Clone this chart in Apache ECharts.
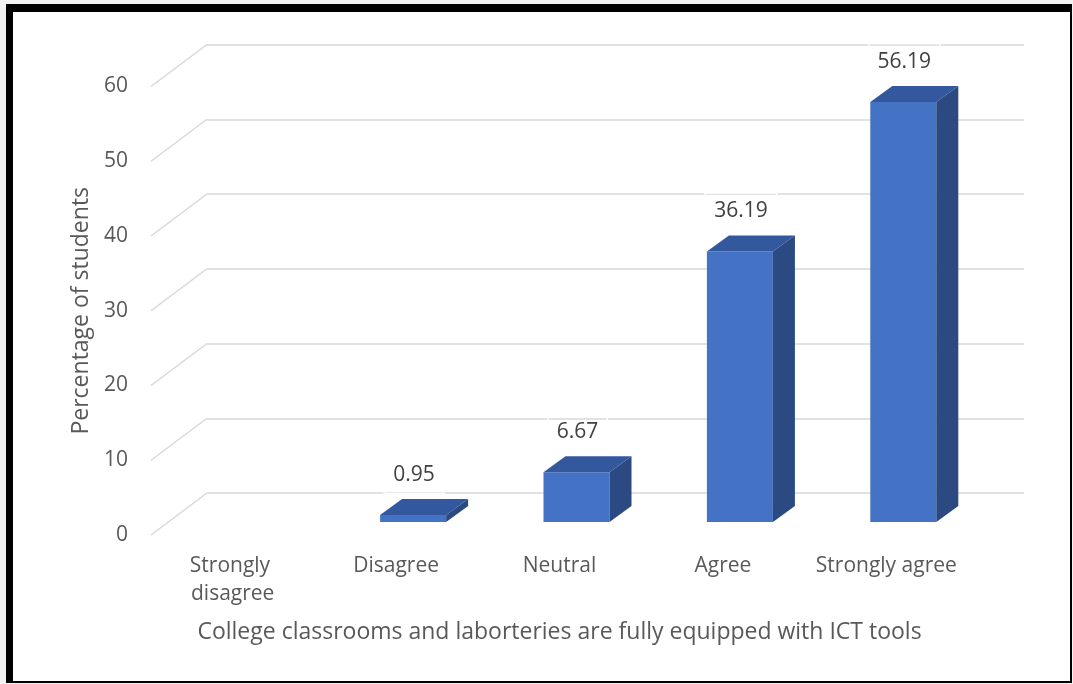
<!DOCTYPE html>
<html>
<head>
<meta charset="utf-8">
<script src="https://cdn.jsdelivr.net/npm/echarts@6/dist/echarts.min.js"></script>
<style>
html,body{margin:0;padding:0;background:#f2f2f2;}
#c{width:1073px;height:684px;}
</style>
</head>
<body>
<div id="c"></div>
<script>
const categories = ['Strongly disagree', 'Disagree', 'Neutral', 'Agree', 'Strongly agree'];
const values = [0, 0.95, 6.67, 36.19, 56.19];
const yTicks = [0, 10, 20, 30, 40, 50, 60];
const yTitle = 'Percentage of students';
const xTitle = 'College classrooms and laborteries are fully equipped with ICT tools';

const FONT = 'Open Sans';
const FS = 21;
const FT = 23;
const TXT = '#595959';
// oblique projection offsets
const FRONT = [-56, 42];     // axis front plane relative to back wall
const BARF = [-39, 29];      // bar front face relative to back wall
const DEPTH = [22, -16];     // bar depth

const chart = echarts.init(document.getElementById('c'), null, {renderer: 'canvas'});

const option = {
  backgroundColor: 'transparent',
  animation: false,
  textStyle: {fontFamily: FONT},
  graphic: [
    {type: 'rect', z: -10, shape: {x: 6, y: 4, width: 1066, height: 679}, style: {fill: '#000'}},
    {type: 'rect', z: -9, shape: {x: 13, y: 12, width: 1057, height: 669}, style: {fill: '#fff'}}
  ],
  grid: [
    {left: 207, right: 49, top: 44.5, bottom: 191},
    {left: 151, right: 105, top: 86.5, bottom: 149}
  ],
  xAxis: [
    {gridIndex: 0, type: 'category', data: categories, show: false},
    {gridIndex: 1, type: 'category', data: categories,
     axisLine: {show: false}, axisTick: {show: false},
     axisLabel: {color: TXT, fontSize: FS, fontFamily: FONT, margin: 17, width: 160, overflow: 'break', lineHeight: 28, interval: 0},
     name: xTitle, nameLocation: 'middle', nameGap: 86,
     nameTextStyle: {color: TXT, fontSize: FT, fontFamily: FONT}}
  ],
  yAxis: [
    {gridIndex: 0, type: 'value', min: 0, max: 60, interval: 10,
     axisLine: {show: false}, axisTick: {show: false}, axisLabel: {show: false},
     splitLine: {lineStyle: {color: '#d9d9d9', width: 1.5}}},
    {gridIndex: 1, type: 'value', min: 0, max: 60, interval: 10,
     axisLine: {show: false}, axisTick: {show: false}, splitLine: {show: false},
     axisLabel: {color: TXT, fontSize: FS, fontFamily: FONT, margin: 23},
     name: yTitle, nameLocation: 'middle', nameGap: 57, nameRotate: 90,
     nameTextStyle: {color: TXT, fontSize: FT, fontFamily: FONT}}
  ],
  series: [
    {
      type: 'custom', xAxisIndex: 0, yAxisIndex: 0, clip: false, silent: true, z: 1,
      data: yTicks.map(v => [0, v]),
      renderItem: function (params, api) {
        const cs = params.coordSys;
        const p = api.coord([0, api.value(1)]);
        return {
          type: 'line',
          shape: {x1: cs.x + FRONT[0], y1: p[1] + FRONT[1], x2: cs.x, y2: p[1]},
          style: {stroke: '#d9d9d9', lineWidth: 1.5}
        };
      }
    },
    {
      type: 'custom', xAxisIndex: 0, yAxisIndex: 0, clip: false, silent: true, z: 3,
      data: values.map((v, i) => [i, v]),
      renderItem: function (params, api) {
        const i = api.value(0), v = api.value(1);
        if (!(v > 0)) return null;
        const base = api.coord([i, 0]);
        const top = api.coord([i, v]);
        const bw = api.size([1, 0])[0] * 0.404;
        const xl = base[0] + BARF[0] - bw / 2, xr = xl + bw;
        const yb = base[1] + BARF[1], yt = top[1] + BARF[1];
        const dx = DEPTH[0], dy = DEPTH[1];
        return {
          type: 'group',
          children: [
            {type: 'polygon', shape: {points: [[xl, yb], [xr, yb], [xr, yt], [xl, yt]]},
             style: {fill: '#4472c4'}},
            {type: 'polygon', shape: {points: [[xl, yt], [xr, yt], [xr + dx, yt + dy], [xl + dx, yt + dy]]},
             style: {fill: '#34589e'}},
            {type: 'polygon', shape: {points: [[xr, yt], [xr + dx, yt + dy], [xr + dx, yb + dy], [xr, yb]]},
             style: {fill: '#2b4a82'}},
            {type: 'text', z2: 10,
             style: {x: (xl + xr) / 2 + 1, y: yt - 40, text: v.toFixed(2), fill: '#404040',
                     font: FS + 'px ' + FONT, align: 'center', verticalAlign: 'middle',
                     padding: [8, 9], borderColor: '#ffffff', borderWidth: 1.5}}
          ]
        };
      }
    }
  ]
};
chart.setOption(option);
</script>
</body>
</html>
